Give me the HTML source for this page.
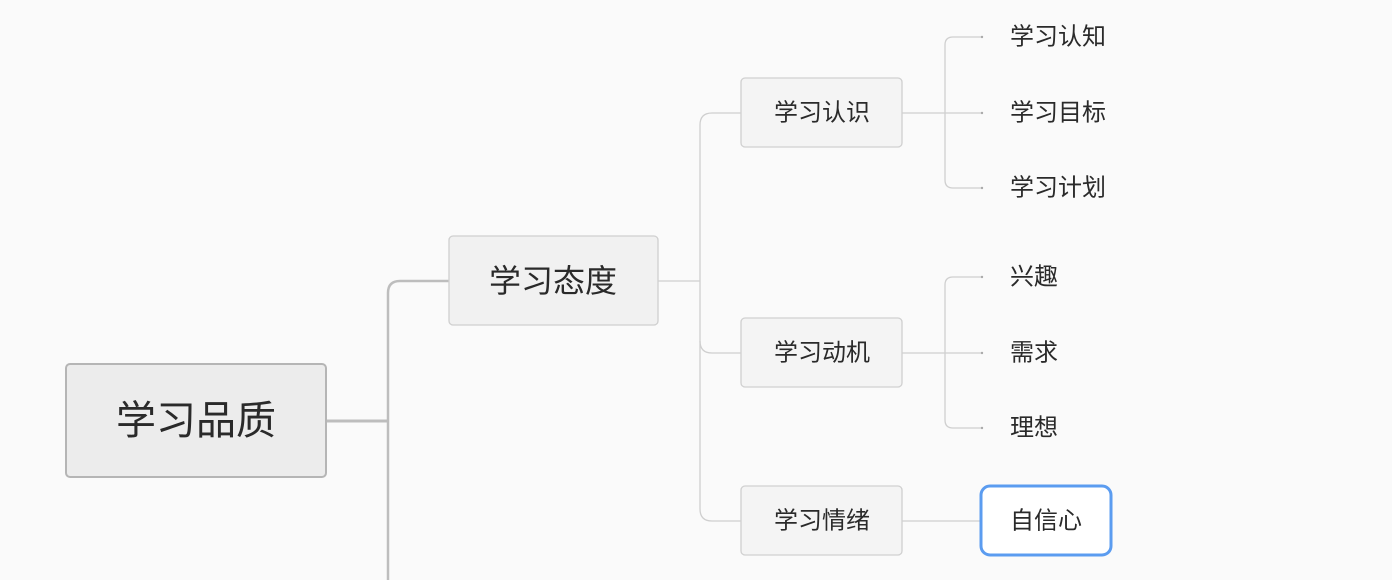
<!DOCTYPE html>
<html><head><meta charset="utf-8"><style>
html,body{margin:0;padding:0;background:#fafafa;}
svg{display:block;}
text{font-family:"Liberation Sans","Noto Sans CJK SC",sans-serif;fill:#2a2a2a;dominant-baseline:central;}
</style></head><body>
<svg width="1392" height="580" viewBox="0 0 1392 580">
<rect width="1392" height="580" fill="#fafafa"/>
<g fill="none" stroke="#bdbdbd">
<path d="M326 421 H388" stroke-width="3"/>
<path d="M388 580 V293 Q388 281 400 281 H449" stroke-width="2.5"/>
</g>
<g fill="none" stroke="#cfcfcf" stroke-width="1.3">
<path d="M658 281 H700"/>
<path d="M741 113 H712 Q700 113 700 125 V509 Q700 521 712 521 H741"/>
<path d="M700 341 Q700 353 712 353 H741"/>
<path d="M902 113 H982"/>
<path d="M982 37 H953 Q945 37 945 45 V180 Q945 188 953 188 H982"/>
<path d="M902 353 H982"/>
<path d="M982 277 H953 Q945 277 945 285 V420 Q945 428 953 428 H982"/>
<path d="M902 521 H980"/>
</g>
<g fill="#aaa">
<circle cx="982" cy="37" r="1.2"/><circle cx="982" cy="113" r="1.2"/><circle cx="982" cy="188" r="1.2"/>
<circle cx="982" cy="277" r="1.2"/><circle cx="982" cy="353" r="1.2"/><circle cx="982" cy="428" r="1.2"/>
</g>
<rect x="66" y="364" width="260" height="113" rx="4" fill="#ececec" stroke="#b5b5b5" stroke-width="2"/>
<text x="196" y="421" font-size="40" text-anchor="middle">学习品质</text>
<rect x="449" y="236" width="209" height="89" rx="4" fill="#f1f1f1" stroke="#cfcfcf" stroke-width="1.3"/>
<text x="553" y="281" font-size="32" text-anchor="middle">学习态度</text>
<g fill="#f4f4f4" stroke="#d0d0d0" stroke-width="1.3">
<rect x="741" y="78" width="161" height="69" rx="4"/>
<rect x="741" y="318" width="161" height="69" rx="4"/>
<rect x="741" y="486" width="161" height="69" rx="4"/>
</g>
<g font-size="24" text-anchor="middle">
<text x="822" y="113">学习认识</text>
<text x="822" y="353">学习动机</text>
<text x="822" y="521">学习情绪</text>
</g>
<g font-size="24">
<text x="1010" y="37">学习认知</text>
<text x="1010" y="113">学习目标</text>
<text x="1010" y="188">学习计划</text>
<text x="1010" y="277">兴趣</text>
<text x="1010" y="353">需求</text>
<text x="1010" y="428">理想</text>
</g>
<rect x="981" y="486" width="130" height="69" rx="9" fill="#fff" stroke="#5b9cf0" stroke-width="3"/>
<text x="1010" y="521" font-size="24">自信心</text>
</svg>
</body></html>
